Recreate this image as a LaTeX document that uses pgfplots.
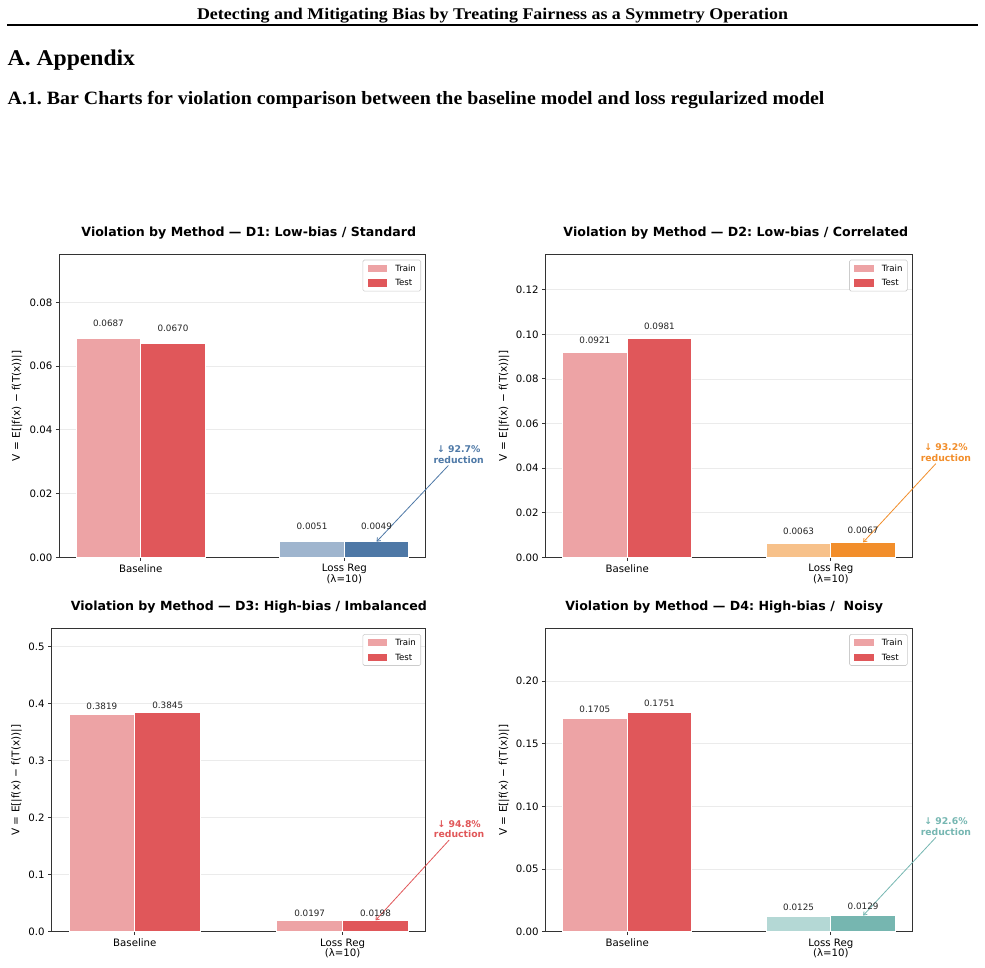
\documentclass[border=0pt]{standalone}
\usepackage{fontspec}
\setmainfont{Liberation Serif}
\newfontfamily\dejavu{DejaVu Sans}
\usepackage{graphicx}
\usepackage{pgfplots}
\pgfplotsset{compat=1.18}
\usetikzlibrary{arrows.meta}
\frenchspacing

\definecolor{trainred}{HTML}{EDA3A5}
\definecolor{testred}{HTML}{E0575A}
\definecolor{trainblue}{HTML}{9FB5CE}
\definecolor{testblue}{HTML}{4E78A6}
\definecolor{trainorange}{HTML}{F7C18A}
\definecolor{testorange}{HTML}{F28E2B}
\definecolor{trainteal}{HTML}{B4D8D5}
\definecolor{testteal}{HTML}{76B6B0}
\definecolor{annblue}{HTML}{4E79A7}
\definecolor{annorange}{HTML}{F28E2B}
\definecolor{annred}{HTML}{E15759}
\definecolor{annteal}{HTML}{76B7B2}
\definecolor{axisgray}{HTML}{333333}
\definecolor{gridgray}{HTML}{EBEBEB}
\definecolor{legendgray}{HTML}{CCCCCC}

\pgfkeys{/pgf/number format/assume math mode=true}

\tikzset{
  ann/.style={font=\dejavu\bfseries\fontsize{9.3}{10.4}\selectfont, align=center, inner sep=2pt},
  annarrow/.style={line width=0.8pt, -{Straight Barb[length=3pt,width=4.5pt]}},
}

\pgfplotsset{
  vplot/.style={
    scale only axis, height=303pt,
    xmin=-0.4, xmax=1.4, ymin=0,
    clip=false, scaled y ticks=false,
    axis line style={draw=axisgray, line width=1.1pt},
    every tick/.style={draw=axisgray, line width=0.9pt},
    major tick length=3.5pt, tick align=outside, tick pos=left,
    xtick={0,1}, xticklabels={Baseline,{Loss Reg\\(λ=10)}},
    xticklabel style={align=center, font=\dejavu\fontsize{10.2}{10.7}\selectfont},
    yticklabel style={font=\dejavu\fontsize{10.2}{12}\selectfont},
    ymajorgrids, major grid style={draw=gridgray, line width=0.8pt},
    ylabel={V = E[|f(x) − f(T(x))|]},
    legend cell align=left,
    legend style={at={(1,1)}, anchor=north east, xshift=-4.7pt, yshift=-5.4pt,
      draw=legendgray, line width=0.6pt, rounded corners=1.5pt, fill=white,
      font=\dejavu\fontsize{8.6}{10}\selectfont,
      inner sep=4.8pt, column sep=8.3pt, row sep=7.7pt,
      nodes={inner sep=0pt, text height=6.3pt, text depth=0pt}},
  },
  yprec/.style={yticklabel style={/pgf/number format/fixed, /pgf/number format/fixed zerofill, /pgf/number format/precision=#1}},
  ylab at/.style={every axis y label/.style={at={(axis description cs:#1,0.5)}, rotate=90, anchor=center,
      font=\dejavu\fontsize{10.5}{12}\selectfont}},
  vbar/.style={ybar, bar width=0.317, bar shift=0pt, draw=white, line width=0.8pt, forget plot},
  vlab/.style={nodes near coords={\pgfmathprintnumber[fixed,fixed zerofill,precision=4]{\pgfplotspointmeta}},
    every node near coord/.append style={font=\dejavu\fontsize{8.8}{10}\selectfont, inner sep=0pt, yshift=#1, text=black!85}},
}

\newcommand{\legendpair}{%
  \addlegendimage{legend image code/.code={\fill[trainred, sharp corners] (0pt,-3.15pt) rectangle (18.7pt,3.15pt);}}
  \addlegendentry{Train}
  \addlegendimage{legend image code/.code={\fill[testred, sharp corners] (0pt,-3.15pt) rectangle (18.7pt,3.15pt);}}
  \addlegendentry{Test}
}

\begin{document}
\begin{tikzpicture}[x=1pt,y=1pt]
\fill[white] (0,0) rectangle (985,967);
\path[use as bounding box] (0,0) rectangle (985,967);

% page header and section headings
\node[anchor=base, inner sep=0] at (492.5,947.7) {\scalebox{1.098}[1]{\fontsize{16.3}{18}\bfseries\selectfont Detecting and Mitigating Bias by Treating Fairness as a Symmetry Operation}};
\draw[line width=2pt] (7,941.7) -- (978,941.7);
\node[anchor=base west, inner sep=0] at (7.5,901.3) {\scalebox{1.05}[1]{\fontsize{22.5}{26}\bfseries\selectfont A. Appendix}};
\node[anchor=base west, inner sep=0] at (7.5,862) {\scalebox{1.058}[1]{\fontsize{18.8}{20}\bfseries\selectfont A.1. Bar Charts for violation comparison between the baseline model and loss regularized model}};

% panel titles
\begin{scope}[every node/.style={anchor=base, inner sep=0, font=\dejavu\bfseries\fontsize{12.6}{14}\selectfont}]
\node at (248.8,730.3) {Violation by Method — D1: Low-bias / Standard};
\node at (735.8,730.3) {Violation by Method — D2: Low-bias / Correlated};
\node at (248.8,356.3) {Violation by Method — D3: High-bias / Imbalanced};
\node at (724.2,356.3) {Violation by Method — D4: High-bias /\ \ Noisy};
\end{scope}

% D1
\begin{axis}[vplot, at={(59.3pt,409.7pt)}, anchor=south west, width=366.4pt,
  ymax=0.0951, ytick={0,0.02,0.04,0.06,0.08}, yprec=2, ylab at=-0.1153]
\addplot[vbar, fill=trainred, vlab=11.3pt] coordinates {(-0.1585,0.0687)};
\addplot[vbar, fill=testred, vlab=11.3pt] coordinates {(0.1585,0.0670)};
\addplot[vbar, fill=trainblue, vlab=11.3pt] coordinates {(0.8415,0.0051)};
\addplot[vbar, fill=testblue, vlab=11.3pt] coordinates {(1.1585,0.0049)};
\legendpair
\node[ann, text=annblue] (r1) at (axis cs:1.562,0.03225) {↓ 92.7\%\\reduction};
\draw[annarrow, annblue] (r1) -- (axis cs:1.1585,0.0049);
\end{axis}

% D2
\begin{axis}[vplot, at={(545.7pt,409.7pt)}, anchor=south west, width=366.6pt,
  ymax=0.1359, ytick={0,0.02,0.04,0.06,0.08,0.10,0.12}, yprec=2, ylab at=-0.1137]
\addplot[vbar, fill=trainred, vlab=8.1pt] coordinates {(-0.1585,0.0921)};
\addplot[vbar, fill=testred, vlab=8.1pt] coordinates {(0.1585,0.0981)};
\addplot[vbar, fill=trainorange, vlab=8.1pt] coordinates {(0.8415,0.0063)};
\addplot[vbar, fill=testorange, vlab=8.1pt] coordinates {(1.1585,0.0067)};
\legendpair
\node[ann, text=annorange] (r2) at (axis cs:1.565,0.0469) {↓ 93.2\%\\reduction};
\draw[annarrow, annorange] (r2) -- (axis cs:1.1585,0.0067);
\end{axis}

% D3
\begin{axis}[vplot, at={(51.7pt,35.3pt)}, anchor=south west, width=374pt,
  ymax=0.5316, ytick={0,0.1,0.2,0.3,0.4,0.5}, yprec=1, ylab at=-0.0936]
\addplot[vbar, fill=trainred, vlab=3.8pt] coordinates {(-0.1585,0.3819)};
\addplot[vbar, fill=testred, vlab=3.8pt] coordinates {(0.1585,0.3845)};
\addplot[vbar, fill=trainred, vlab=3.8pt] coordinates {(0.8415,0.0197)};
\addplot[vbar, fill=testred, vlab=3.8pt] coordinates {(1.1585,0.0198)};
\legendpair
\node[ann, text=annred] (r3) at (axis cs:1.561,0.18) {↓ 94.8\%\\reduction};
\draw[annarrow, annred] (r3) -- (axis cs:1.1585,0.0198);
\end{axis}

% D4
\begin{axis}[vplot, at={(545.7pt,35.3pt)}, anchor=south west, width=366.6pt,
  ymax=0.2418, ytick={0,0.05,0.10,0.15,0.20}, yprec=2, ylab at=-0.1137]
\addplot[vbar, fill=trainred, vlab=5.5pt] coordinates {(-0.1585,0.1705)};
\addplot[vbar, fill=testred, vlab=5.5pt] coordinates {(0.1585,0.1751)};
\addplot[vbar, fill=trainteal, vlab=5.5pt] coordinates {(0.8415,0.0125)};
\addplot[vbar, fill=testteal, vlab=5.5pt] coordinates {(1.1585,0.0129)};
\legendpair
\node[ann, text=annteal] (r4) at (axis cs:1.565,0.0839) {↓ 92.6\%\\reduction};
\draw[annarrow, annteal] (r4) -- (axis cs:1.1585,0.0129);
\end{axis}
\end{tikzpicture}
\end{document}
